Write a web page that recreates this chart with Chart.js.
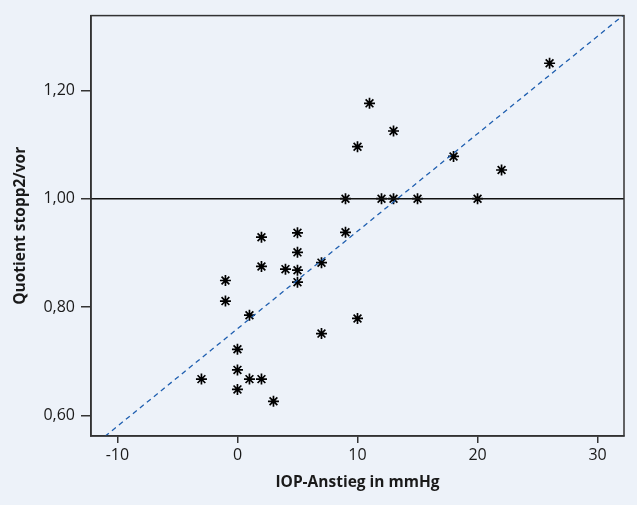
<!DOCTYPE html>
<html>
<head>
<meta charset="utf-8">
<script src="https://cdn.jsdelivr.net/npm/chart.js@4/dist/chart.umd.min.js"></script>
<style>
  html, body { margin: 0; padding: 0; background: #edf2f9; }
  #wrap { width: 637px; height: 505px; }
</style>
</head>
<body>
<div id="wrap"><canvas id="chart" width="637" height="505"></canvas></div>
<script>
// IOP rise (mmHg) vs quotient stopp2/vor
const iopRise = [-3, -1, -1, 0, 0, 0, 1, 1, 2, 2, 2, 3, 4, 5, 5, 5, 5, 7, 7, 9, 9, 10, 10, 11, 12, 13, 13, 15, 18, 20, 22, 26];
const quotient = [0.667, 0.849, 0.811, 0.722, 0.684, 0.648, 0.785, 0.667, 0.667, 0.929, 0.875, 0.626, 0.870, 0.937, 0.901, 0.868, 0.846, 0.882, 0.751, 0.938, 1.0, 1.096, 0.779, 1.176, 1.0, 1.0, 1.125, 1.0, 1.078, 1.0, 1.053, 1.25];

// fitted line
const fitIntercept = 0.76;
const fitSlope = 0.018;

const xRange = [-12.2, 32.2];
const yRange = [0.562, 1.338];
const xTicks = [-10, 0, 10, 20, 30];
const yTicks = [0.6, 0.8, 1.0, 1.2];
const refLevel = 1.0;

const points = iopRise.map((x, i) => ({ x: x, y: quotient[i] }));
const fitLine = xRange.map(x => ({ x: x, y: fitIntercept + fitSlope * x }));
const refLine = xRange.map(x => ({ x: x, y: refLevel }));

// draws the frame round the plot area
const frame = {
  id: 'frame',
  afterDatasetsDraw(chart) {
    const a = chart.chartArea;
    const ctx = chart.ctx;
    ctx.save();
    ctx.strokeStyle = '#333';
    ctx.lineWidth = 1.5;
    ctx.strokeRect(a.left, a.top, a.right - a.left, a.bottom - a.top);
    ctx.restore();
  }
};

const font = "'Open Sans', 'DejaVu Sans', sans-serif";

new Chart(document.getElementById('chart'), {
  type: 'scatter',
  data: {
    datasets: [
      {
        data: refLine,
        type: 'line',
        borderColor: '#111',
        borderWidth: 1.5,
        pointRadius: 0,
        fill: false
      },
      {
        data: fitLine,
        type: 'line',
        borderColor: '#1f5fb0',
        borderWidth: 1.3,
        borderDash: [5, 4],
        pointRadius: 0,
        fill: false
      },
      {
        data: points,
        pointStyle: 'star',
        pointRadius: 5.5,
        borderColor: '#000',
        backgroundColor: '#000',
        borderWidth: 1.7
      }
    ]
  },
  options: {
    responsive: false,
    animation: false,
    layout: { padding: { top: 15, right: 13, left: 0, bottom: 0 } },
    plugins: {
      legend: { display: false },
      tooltip: { enabled: false }
    },
    scales: {
      x: {
        type: 'linear',
        min: xRange[0],
        max: xRange[1],
        afterBuildTicks: s => { s.ticks = xTicks.map(v => ({ value: v })); },
        afterFit: s => { s.height = 69; },
        grid: { drawOnChartArea: false, drawTicks: true, tickLength: 7, color: '#333', lineWidth: 1.5 },
        border: { display: true, color: '#333', width: 1.5 },
        ticks: { color: '#1a1a1a', font: { family: font, size: 16 }, padding: 3, maxRotation: 0 },
        title: { display: true, text: 'IOP-Anstieg in mmHg', color: '#1a1a1a', font: { family: font, size: 15.5, weight: 'bold' }, padding: { top: 4, bottom: 13 } }
      },
      y: {
        type: 'linear',
        min: yRange[0],
        max: yRange[1],
        afterBuildTicks: s => { s.ticks = yTicks.map(v => ({ value: v })); },
        afterFit: s => { s.width = 91; },
        grid: { drawOnChartArea: false, drawTicks: true, tickLength: 10, color: '#333', lineWidth: 1.5 },
        border: { display: true, color: '#333', width: 1.5 },
        ticks: { color: '#1a1a1a', font: { family: font, size: 16 }, padding: 6, callback: v => v.toFixed(2).replace('.', ',') },
        title: { display: true, text: 'Quotient stopp2/vor', color: '#1a1a1a', font: { family: font, size: 15.5, weight: 'bold' }, padding: { top: 11, bottom: 4 } }
      }
    }
  },
  plugins: [frame]
});
</script>
</body>
</html>
